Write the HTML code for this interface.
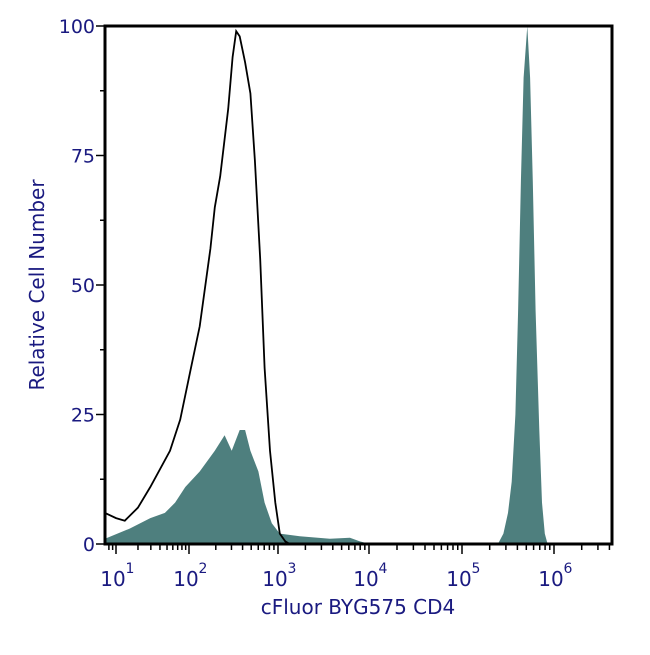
<!DOCTYPE html>
<html><head><meta charset="utf-8"><style>
body{margin:0;background:#fff}
svg text{font-family:"DejaVu Sans","Liberation Sans",sans-serif;fill:#1a1a80}
</style></head><body>
<svg id="c" width="650" height="650"></svg>
<script>
const decadeKnots=[0.85,1,2,3,4,5,6,6.63];
const yTicks=[0,25,50,75,100];
const xDecades=[1,2,3,4,5,6];
const lineX=[0.85,1.0,1.12,1.3,1.47,1.74,1.88,2.01,2.12,2.24,2.29,2.35,2.44,2.49,2.53,2.57,2.63,2.69,2.74,2.80,2.85,2.91,2.97,3.02,3.08,3.13];
const lineY=[6,5,4.5,7,11,18,24,33,42,57,65,71,84,94,99,98,93,87,74,55,34,18,8,2,0.5,0];
const fillX=[0.85,1.19,1.47,1.67,1.81,1.95,2.12,2.29,2.40,2.48,2.57,2.63,2.69,2.78,2.85,2.93,3.02,3.24,3.57,3.79,3.90,4.01,5.39,5.45,5.50,5.54,5.58,5.61,5.64,5.67,5.71,5.74,5.77,5.80,5.84,5.87,5.90,5.93];
const fillY=[1,3,5,6,8,11,14,18,21,18,22,22,18,14,8,4,2,1.5,1,1.2,0.5,0,0,2,6,12,25,45,70,90,100,90,70,45,22,8,2,0];
const knotPx=[105,116,189,278,369,462,554,612];
const L=105,R=612,T=26,B=544;
function xs(v){for(let i=0;i<decadeKnots.length-1;i++){if(v<=decadeKnots[i+1]||i==decadeKnots.length-2){const a=decadeKnots[i],b=decadeKnots[i+1];return knotPx[i]+(v-a)/(b-a)*(knotPx[i+1]-knotPx[i]);}}}
function ys(v){return B-(v/100)*(B-T);}
const svg=document.getElementById('c');const NS='http://www.w3.org/2000/svg';
function mk(t,a,p){const e=document.createElementNS(NS,t);for(const k in a)e.setAttribute(k,a[k]);(p||svg).appendChild(e);return e;}
let d='M'+xs(fillX[0])+','+ys(0);
fillX.forEach((v,i)=>{d+='L'+xs(v).toFixed(1)+','+ys(fillY[i]).toFixed(1);});
d+='L'+xs(fillX[fillX.length-1])+','+ys(0)+'Z';
const f=mk('path',{d:d,fill:'#4e7f7e'});


let d2='';lineX.forEach((v,i)=>{d2+=(i?'L':'M')+xs(v).toFixed(1)+','+ys(lineY[i]).toFixed(1);});
const ln=mk('path',{d:d2,fill:'none',stroke:'#000','stroke-width':1.8});


const box=mk('rect',{x:L,y:T,width:R-L,height:B-T,fill:'none',stroke:'#000','stroke-width':3});


for(let v=0;v<=100;v+=12.5){const y=ys(v);const maj=yTicks.includes(v);mk('line',{x1:L-(maj?9:5),x2:L,y1:y,y2:y,stroke:'#000','stroke-width':1.5});}
yTicks.forEach(v=>{const t=mk('text',{x:L-10,y:ys(v)+7,'text-anchor':'end','font-size':19});t.textContent=v;

});
for(let dcd=0;dcd<=6;dcd++){for(let m=1;m<=9;m++){const v=dcd+Math.log10(m);if(v<0.85||v>6.63)continue;const x=xs(v);mk('line',{x1:x,x2:x,y1:B,y2:B+(m==1?10:6),stroke:'#000','stroke-width':1.5});}}
xDecades.forEach(v=>{const x=xs(v);const t=mk('text',{x:x-3,y:586,'text-anchor':'middle','font-size':20});t.textContent='10';


const s=mk('text',{x:x+14,y:573,'text-anchor':'middle','font-size':14});s.textContent=v;

});
const xt=mk('text',{x:358,y:614,'text-anchor':'middle','font-size':20});xt.textContent='cFluor BYG575 CD4';


const yt=mk('text',{x:0,y:0,'text-anchor':'middle','font-size':20,transform:'translate(44,285) rotate(-90)'});yt.textContent='Relative Cell Number';


</script>
</body></html>
